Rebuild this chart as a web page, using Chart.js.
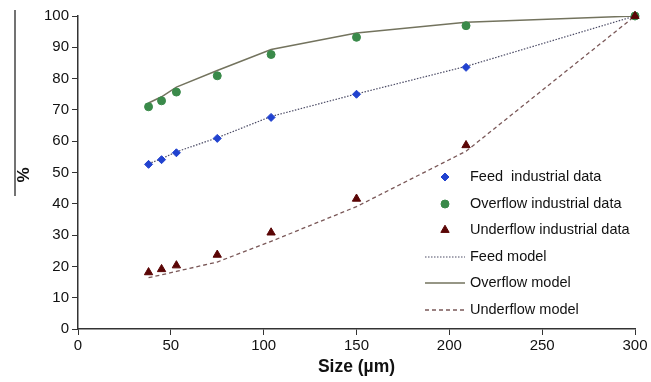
<!DOCTYPE html>
<html>
<head>
<meta charset="utf-8">
<script src="https://cdn.jsdelivr.net/npm/chart.js@4.4.1/dist/chart.umd.min.js"></script>
<style>
  html, body { margin: 0; padding: 0; background: #fff; }
  #wrap { width: 651px; height: 382px; position: relative; }
</style>
</head>
<body>
<div id="wrap"><canvas id="psd"></canvas></div>
<script>
// Particle size (µm) of the sieve classes
const sizes = [38, 45, 53, 75, 104, 150, 209, 300];

// Industrial data (cumulative % passing)
const feedData = [52.6, 54.1, 56.3, 60.9, 67.6, 75.0, 83.6, 100];
const overflowData = [71.0, 72.9, 75.7, 80.9, 87.7, 93.2, 96.9, 100];
const underflowData = [18.1, 19.1, 20.3, 23.7, 30.8, 41.6, 58.7, 100];

// Model curves
const feedModel = [52.8, 54.4, 56.6, 61.1, 67.9, 75.1, 83.9, 100];
const overflowModel = [72.2, 74.2, 77.3, 82.6, 89.3, 94.6, 98.0, 100];
const underflowModel = [16.4, 17.3, 18.4, 21.4, 28.0, 39.1, 56.8, 100];

const yTicks = [0, 10, 20, 30, 40, 50, 60, 70, 80, 90, 100];
const xTicks = [0, 50, 100, 150, 200, 250, 300];

const toXY = (vals) => vals.map((v, i) => ({ x: sizes[i], y: v }));

const FONT = "'Liberation Sans', Arial, sans-serif";
const AXIS = '#333333';

// draws the rotated "%" label, the stray bar beside it and the legend
const extras = {
  id: 'extras',
  afterDraw(chart) {
    const ctx = chart.ctx;
    ctx.save();
    // vertical bar left of the y label
    ctx.strokeStyle = '#444';
    ctx.lineWidth = 1.5;
    ctx.beginPath();
    ctx.moveTo(15, 10);
    ctx.lineTo(15, 196);
    ctx.stroke();

    ctx.translate(24, 175);
    ctx.rotate(-Math.PI / 2);
    ctx.fillStyle = '#111';
    ctx.font = 'bold 17px ' + FONT;
    ctx.textAlign = 'center';
    ctx.textBaseline = 'middle';
    ctx.fillText('%', 0, 0);
    ctx.restore();

    // legend, in dataset index order
    ctx.save();
    ctx.font = '14.5px ' + FONT;
    ctx.fillStyle = '#111';
    ctx.textBaseline = 'middle';
    const rowY = [177, 204, 230, 257, 283, 310];
    chart.data.datasets.forEach((ds, i) => {
      const y = rowY[i];
      if (ds.showLine === false) {
        ctx.save();
        ctx.fillStyle = ds.backgroundColor;
        ctx.strokeStyle = ds.borderColor;
        ctx.lineWidth = 1;
        Chart.helpers.drawPoint(ctx, { pointStyle: ds.pointStyle, radius: ds.pointRadius, borderWidth: 1 }, 445, y);
        ctx.restore();
      } else {
        ctx.save();
        ctx.strokeStyle = ds.borderColor;
        ctx.lineWidth = ds.borderWidth;
        ctx.setLineDash(ds.borderDash || []);
        ctx.beginPath();
        ctx.moveTo(425, y);
        ctx.lineTo(465, y);
        ctx.stroke();
        ctx.restore();
      }
      ctx.fillStyle = '#111';
      ctx.fillText(ds.label, 470, y);
    });
    ctx.restore();
  }
};

new Chart(document.getElementById('psd'), {
  type: 'scatter',
  data: {
    datasets: [
      { label: 'Feed  industrial data', data: toXY(feedData), showLine: false, order: 3, clip: false,
        pointStyle: 'rectRot', pointRadius: 4, backgroundColor: '#2142cf', borderColor: '#2142cf' },
      { label: 'Overflow industrial data', data: toXY(overflowData), showLine: false, order: 2, clip: false,
        pointStyle: 'circle', pointRadius: 4, backgroundColor: '#3a8a4a', borderColor: '#3a8a4a' },
      { label: 'Underflow industrial data', data: toXY(underflowData), showLine: false, order: 1, clip: false,
        pointStyle: 'triangle', pointRadius: 4.8, backgroundColor: '#5a0505', borderColor: '#5a0505' },
      { label: 'Feed model', data: toXY(feedModel), showLine: true, pointRadius: 0, order: 4,
        borderColor: '#4c4c66', borderWidth: 1.2, borderDash: [1.5, 1.5], fill: false },
      { label: 'Overflow model', data: toXY(overflowModel), showLine: true, pointRadius: 0, order: 4,
        borderColor: '#73735e', borderWidth: 1.5, fill: false },
      { label: 'Underflow model', data: toXY(underflowModel), showLine: true, pointRadius: 0, order: 4,
        borderColor: '#7a5858', borderWidth: 1.3, borderDash: [4, 3], fill: false }
    ]
  },
  options: {
    responsive: true,
    maintainAspectRatio: false,
    animation: false,
    layout: { padding: { top: 16, right: 16, left: 0, bottom: 0 } },
    plugins: {
      legend: { display: false },
      tooltip: { enabled: false }
    },
    scales: {
      x: {
        type: 'linear',
        min: 0, max: 300,
        afterFit: (s) => { s.height = 53; },
        afterBuildTicks: (s) => { s.ticks = xTicks.map(v => ({ value: v })); },
        grid: { drawOnChartArea: false, tickLength: 6, color: AXIS },
        border: { color: AXIS, width: 1.5 },
        ticks: { color: '#111', font: { family: FONT, size: 15 }, padding: 2 },
        title: { display: true, text: 'Size (µm)', color: '#111',
                 font: { family: FONT, size: 17.5, weight: 'bold' }, padding: { top: 1 } }
      },
      y: {
        min: 0, max: 100,
        afterFit: (s) => { s.width = 78; },
        afterBuildTicks: (s) => { s.ticks = yTicks.map(v => ({ value: v })); },
        grid: { drawOnChartArea: false, tickLength: 6, color: AXIS },
        border: { color: AXIS, width: 1.5 },
        ticks: { color: '#111', font: { family: FONT, size: 15 }, padding: 3 }
      }
    }
  },
  plugins: [extras]
});
</script>
</body>
</html>
